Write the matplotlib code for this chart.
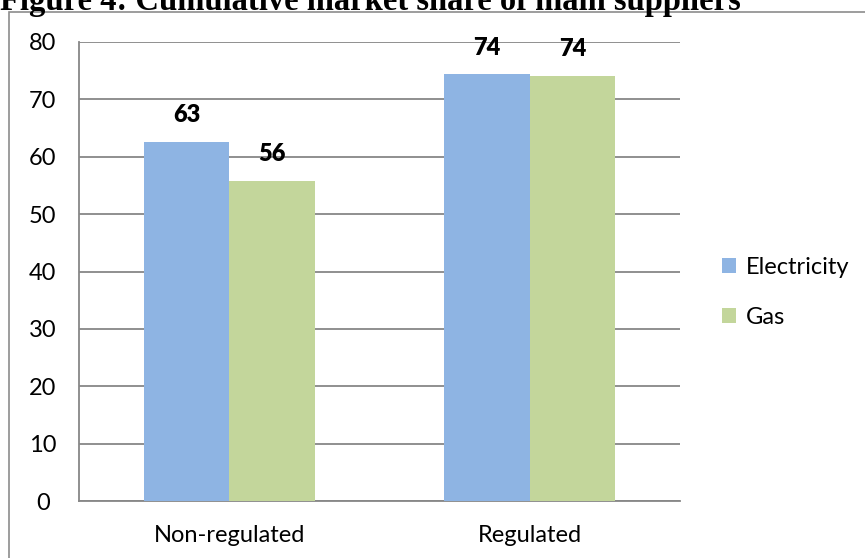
import matplotlib
matplotlib.use('Agg')
import matplotlib.pyplot as plt
from matplotlib.patches import Rectangle
import numpy as np

# data
categories = ['Non-regulated', 'Regulated']
electricity = [62.6, 74.4]
gas = [55.8, 74.1]
series_names = ['Electricity', 'Gas']
yticks = [0, 10, 20, 30, 40, 50, 60, 70, 80]
title = 'Figure 4: Cumulative market share of main suppliers'

blue = '#8EB4E3'
green = '#C3D69B'
grid_col = '#878787'

W, H = 865, 558
fig = plt.figure(figsize=(W / 100, H / 100), dpi=100)
fig.patch.set_facecolor('white')

# outer chart border (runs off the right and bottom of the crop)
fig.patches.append(Rectangle((9 / W, -0.1), 1.2, 1.1 - 12 / H, transform=fig.transFigure,
                             fill=False, edgecolor='#8c8c8c', lw=1.2))

# title, partly cut off at the top like in the source
fig.text(0.0, 1 - 10 / H, title, fontfamily='Liberation Serif', fontweight='bold',
         fontsize=23.5, va='baseline', ha='left')

ax = fig.add_axes([79 / W, 57 / H, (680 - 79) / W, (501 - 42) / H])
x = np.arange(len(categories))
bw = 0.285
b1 = ax.bar(x - bw / 2, electricity, bw, color=blue, label=series_names[0], zorder=3)
b2 = ax.bar(x + bw / 2, gas, bw, color=green, label=series_names[1], zorder=3)

for bars in (b1, b2):
    for b in bars:
        ax.annotate('%.0f' % b.get_height(), (b.get_x() + b.get_width() / 2, b.get_height()),
                    xytext=(0, 19), textcoords='offset points', ha='center', va='center',
                    fontfamily='Lato', fontweight='heavy', fontsize=17)

ax.set_xlim(-0.5, 1.5)
ax.set_ylim(0, 80)
ax.set_yticks(yticks)
ax.set_xticks(x)
ax.set_xticklabels(categories)
ax.yaxis.grid(True, color=grid_col, lw=1.3, zorder=0)
ax.tick_params(length=0, labelsize=17)
ax.tick_params(axis='y', pad=26)
ax.tick_params(axis='x', pad=17)
for lab in ax.get_xticklabels() + ax.get_yticklabels():
    lab.set_fontfamily('Lato')
for lab in ax.get_yticklabels():
    lab.set_horizontalalignment('center')
for s in ['top', 'right']:
    ax.spines[s].set_visible(False)
for s in ['left', 'bottom']:
    ax.spines[s].set_color(grid_col)
    ax.spines[s].set_linewidth(1.3)

fig.legend(handles=[b1, b2], loc='upper left', bbox_to_anchor=(701 / W, 1 - 236 / H),
           frameon=False, prop={'family': 'Lato', 'size': 17},
           handlelength=0.6, handleheight=0.6, handletextpad=0.4, labelspacing=1.2)

fig.savefig('out.png', dpi=100)
